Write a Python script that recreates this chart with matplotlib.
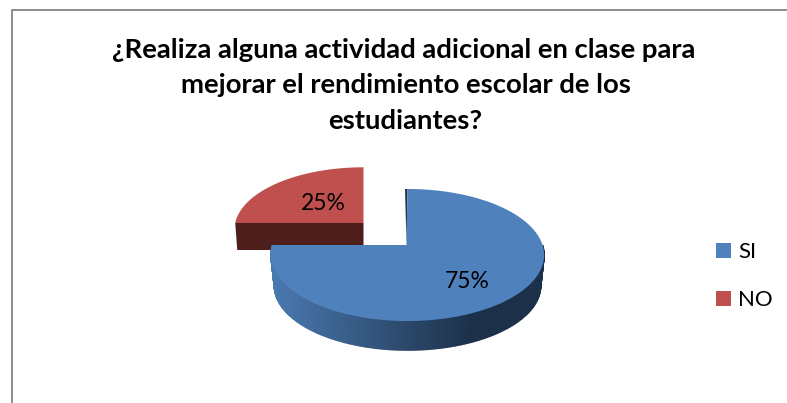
import numpy as np
import matplotlib
matplotlib.use("Agg")
import matplotlib.pyplot as plt
from matplotlib.patches import Polygon, Patch

plt.rcParams["font.family"] = ["Lato", "DejaVu Sans"]

# data
labels = ["SI", "NO"]
values = [75, 25]
title_lines = ["¿Realiza alguna actividad adicional en clase para",
               "mejorar el rendimiento escolar de los",
               "estudiantes?"]

BLUE = "#4f81bd"
RED = "#c0504d"
RED_DARK = "#4d1e1c"

W, H = 787, 403
fig = plt.figure(figsize=(W / 100, H / 100), dpi=100)
ax = fig.add_axes([0, 0, 1, 1])
ax.set_xlim(0, W)
ax.set_ylim(H, 0)
ax.axis("off")

# frame is cut off at the bottom and on the right
ax.plot([11.5, 11.5, W], [H, 9.5, 9.5], color="#8c8c8c", lw=1.4)


def project(deg, cx, cy, scale=1.0, k=0.1515):
    # tilted circle with a bit of perspective, angle counted ccw from east
    t = np.radians(deg)
    d = 1 + k * np.sin(t)
    x = cx + scale * 135.0 * np.cos(t) / d
    y = cy - scale * 64.5 * np.sin(t) / d
    return x, y


def lerp_color(a, b, f):
    a = np.array(matplotlib.colors.to_rgb(a))
    b = np.array(matplotlib.colors.to_rgb(b))
    return tuple(a + (b - a) * f)


# slices start at 12 o'clock, clockwise
sweep = [v / sum(values) * 360 for v in values]
blue_start, blue_end = 90, 90 - sweep[0]
red_start, red_end = blue_end, blue_end - sweep[1]

# NO slice, pulled out to the upper left and further from the viewer
rx, ry, rs = 363.5, 223, 0.95
ts = np.linspace(red_start, red_end, 80)
px, py = project(ts, rx, ry, rs, 0.1)
ax.add_patch(Polygon(list(zip(
    [px[0], px[0] + 2, rx, rx], [ry, ry + 27, ry + 27, ry])),
    fc=RED_DARK, ec="none"))
ax.add_patch(Polygon(list(zip(
    [rx, rx + 1.5, rx + 1.5, rx], [ry, py[-1], py[-1], ry])),
    fc="#96403d", ec="none"))
ax.add_patch(Polygon(np.column_stack([np.r_[rx, px], np.r_[ry, py]]), fc=RED, ec="none"))

# SI slice side wall, drawn as strips so it gets the shading
cx, cy = 407.5, 245
depth = 31
angles = np.linspace(180, 360, 181)
for a0, a1 in zip(angles[:-1], angles[1:]):
    x0, y0 = project(np.array([a0, a1]), cx, cy)
    x1, y1 = project(np.array([a0, a1]), cx, cy + depth, 0.975)
    f = min(1, (x0[0] - 272) / 200)
    col = lerp_color("#4a79b0", "#1c3149", f)
    ax.add_patch(Polygon([(x0[0], y0[0]), (x0[1], y0[1]), (x1[1], y1[1]), (x1[0], y1[0])],
                         fc=col, ec=col, lw=1.0))

# thin dark cut edge next to the apex
ax.add_patch(Polygon([(cx - 1, cy), (cx - 2.5, 189), (cx, 189)], fc="#1f3550", ec="none"))

# SI slice top
ts = np.linspace(blue_start, blue_end, 200)
px, py = project(ts, cx, cy)
ax.add_patch(Polygon(np.column_stack([np.r_[cx - 1, px], np.r_[cy, py]]), fc=BLUE, ec="none"))

# percent labels
ax.text(323, 203.5, f"{values[1]}%", ha="center", va="center", fontsize=16.5, color="black")
ax.text(467, 281.5, f"{values[0]}%", ha="center", va="center", fontsize=16.5, color="black")

# title lines are placed one by one, Lato runs a bit different from the original font
title_x = [403.5, 405.5, 405.5]
title_y = [57.5, 93.3, 129.3]
for line, x, y in zip(title_lines, title_x, title_y):
    ax.text(x, y, line, ha="center", va="baseline", fontsize=19.77, fontweight="bold", color="black")

# legend
handles = [Patch(fc=BLUE, ec="none"), Patch(fc=RED, ec="none")]
ax.legend(handles, labels, loc="center left", bbox_to_anchor=(0.91, 0.315), frameon=False,
          fontsize=16, handlelength=0.67, handleheight=0.67, handletextpad=0.33, labelspacing=1.27,
          borderpad=0, borderaxespad=0)

fig.savefig("out.png", dpi=100, facecolor="white")
